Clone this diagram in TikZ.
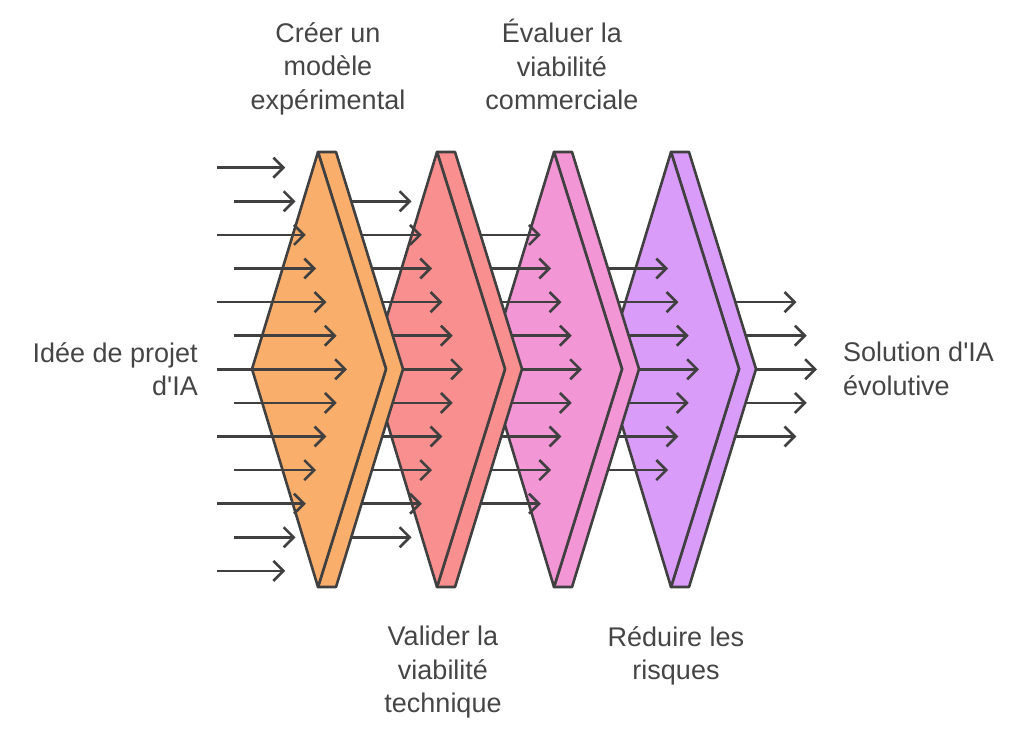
\documentclass[tikz,border=0pt]{standalone}
\usepackage{fontspec}
\setmainfont{Liberation Sans}[Ligatures=TeXOff]
\usepackage{xcolor}
\definecolor{StageOrange}{HTML}{F9AE6B}
\definecolor{StageSalmon}{HTML}{FA8F8F}
\definecolor{StagePink}{HTML}{F296D6}
\definecolor{StagePurple}{HTML}{D99CF8}
\definecolor{Outline}{HTML}{404040}
\definecolor{TextGray}{HTML}{454545}
\usepackage{tikz}
\usetikzlibrary{arrows.meta}

% one funnel stage: back plate, then front diamond (#1 = centre x, #2 = fill)
\newcommand{\stageshape}[2]{%
  \filldraw[stageline,fill=#2] (#1,152) -- (#1+18,152) -- (#1+85,369) -- (#1+18,587)
    -- (#1,587) -- (#1+68,369) -- cycle;
  \filldraw[stageline,fill=#2] (#1,152) -- (#1+68,369) -- (#1,587) -- (#1-66,369) -- cycle;
}
% a fan of flow arrows: rows #1..#2, start x #3, tip x of the middle row #4
\newcommand{\flowset}[4]{%
  \foreach \r in {#1,...,#2}{
    \pgfmathsetmacro{\rowy}{167.7+33.6*\r}
    \pgfmathsetmacro{\startx}{#3}
    \pgfmathsetmacro{\tipx}{#4-10.3*abs(\r-6)}
    \draw[flow] (\startx,\rowy) -- (\tipx,\rowy);
  }%
}

\begin{document}
\begin{tikzpicture}[x=1pt,y=-1pt,font=\fontsize{27}{33.5}\selectfont]
\tikzset{
  stageline/.style={draw=Outline,line width=2.6pt,line join=round},
  flow/.style={draw=Outline,line width=2.6pt,
    -{Straight Barb[length=10pt,width=20pt,line width=2.6pt]}},
  stagetext/.style={text=TextGray,align=center,inner sep=0pt}
}
\useasboundingbox (0,0) rectangle (1024,739);

% stages are stacked from the last one up to the first one,
% each fan of arrows runs under the stage it leaves
\flowset{4}{8}{671}{817}
\stageshape{671}{StagePurple}
\flowset{3}{9}{554}{699}
\stageshape{554}{StagePink}
\flowset{2}{10}{437}{582}
\stageshape{437}{StageSalmon}
\flowset{1}{11}{318}{463}
\stageshape{318}{StageOrange}
\flowset{0}{12}{isodd(\r)?234:217}{347}

% stage captions
\node[stagetext,anchor=north] (model) at (328,22) {Créer un\\modèle\\expérimental};
\node[stagetext,anchor=north] (tech) at (443,626) {Valider la\\viabilité\\technique};
\node[stagetext,anchor=north] (market) at (562,19) {Évaluer la\\viabilité\\commerciale};
\node[stagetext,anchor=north] (risk) at (676,626) {Réduire les\\risques};

% input and output
\node[stagetext,align=right,anchor=east] (idea) at (198,369) {Idée de projet\\d'IA};
\node[stagetext,align=left,anchor=west] (solution) at (843,369) {Solution d'IA\\évolutive};
\end{tikzpicture}
\end{document}
